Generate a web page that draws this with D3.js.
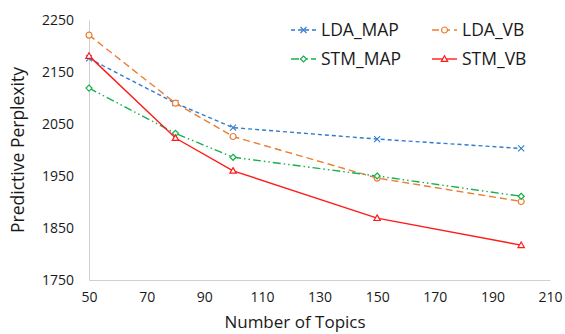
<!DOCTYPE html>
<html>
<head>
<meta charset="utf-8">
<script src="https://cdn.jsdelivr.net/npm/d3@7"></script>
<style>
  body { margin: 0; background: #fff; }
  svg text { font-family: "Open Sans", "Noto Sans", sans-serif; fill: #1a1a1a; }
</style>
</head>
<body>
<div id="chart"></div>
<script>
// values
const topics = [50, 80, 100, 150, 200];
const ldaMap = [2176, 2090, 2043, 2021, 2003];
const ldaVb = [2221, 2090, 2026, 1946, 1901];
const stmMap = [2119, 2032, 1986, 1950, 1911];
const stmVb = [2181, 2023, 1960, 1869, 1817];
const xTicks = [50, 70, 90, 110, 130, 150, 170, 190, 210];
const yTicks = [1750, 1850, 1950, 2050, 2150, 2250];

const width = 565;
const height = 334;
const margin = { top: 20, right: 15, bottom: 54, left: 89 };

const series = [
  { name: 'LDA_MAP', values: ldaMap, color: '#2f7bd0', dash: '4,3', marker: 'x' },
  { name: 'LDA_VB', values: ldaVb, color: '#ed7d31', dash: '7,4', marker: 'circle' },
  { name: 'STM_MAP', values: stmMap, color: '#16b04f', dash: '8,3,1.5,3,1.5,3', marker: 'diamond' },
  { name: 'STM_VB', values: stmVb, color: '#ff1a1a', dash: null, marker: 'triangle' }
];

const svg = d3.select('#chart')
  .append('svg')
  .attr('width', width)
  .attr('height', height);

const xScale = d3.scaleLinear()
  .domain([50, 210])
  .range([margin.left, width - margin.right]);
const yScale = d3.scaleLinear()
  .domain([1750, 2250])
  .range([height - margin.bottom, margin.top]);

// axes
const xAxis = d3.axisBottom(xScale).tickValues(xTicks).tickFormat(d3.format('d')).tickSize(0).tickPadding(12);
const yAxis = d3.axisLeft(yScale).tickValues(yTicks).tickFormat(d3.format('d')).tickSize(0).tickPadding(15);

svg.append('g')
  .attr('class', 'x-axis-container')
  .attr('transform', `translate(0, ${height - margin.bottom})`)
  .call(xAxis);
svg.append('g')
  .attr('class', 'y-axis-container')
  .attr('transform', `translate(${margin.left}, 0)`)
  .call(yAxis);
svg.selectAll('.x-axis-container path, .y-axis-container path')
  .attr('stroke', '#d0d0d0')
  .attr('stroke-width', 1);
svg.selectAll('.x-axis-container text, .y-axis-container text')
  .attr('font-size', 14)
  .attr('fill', '#1a1a1a');

// axis titles
svg.append('text')
  .attr('x', 295)
  .attr('y', 328)
  .attr('text-anchor', 'middle')
  .attr('font-size', 17)
  .text('Number of Topics');
svg.append('text')
  .attr('transform', `translate(24, ${(margin.top + height - margin.bottom) / 2}) rotate(-90)`)
  .attr('text-anchor', 'middle')
  .attr('font-size', 17.5)
  .text('Predictive Perplexity');

const line = d3.line()
  .x((d, i) => xScale(topics[i]))
  .y(d => yScale(d));

function drawMarker(g, type, color) {
  if (type === 'x') {
    g.append('path').attr('d', 'M-3,-3L3,3M-3,3L3,-3')
      .attr('stroke', color).attr('stroke-width', 1.1).attr('fill', 'none');
  } else if (type === 'circle') {
    g.append('circle').attr('r', 3)
      .attr('stroke', color).attr('stroke-width', 1.2).attr('fill', '#fff');
  } else if (type === 'diamond') {
    g.append('path').attr('d', 'M0,-3L3,0L0,3L-3,0Z')
      .attr('stroke', color).attr('stroke-width', 1.2).attr('fill', '#fff');
  } else {
    g.append('path').attr('d', 'M0,-3.2L3.2,2.4L-3.2,2.4Z')
      .attr('stroke', color).attr('stroke-width', 1.2).attr('fill', '#fff');
  }
}

const lines = svg.append('g').attr('class', 'lines-container');
series.forEach(s => {
  lines.append('path')
    .datum(s.values)
    .attr('d', line)
    .attr('fill', 'none')
    .attr('stroke', s.color)
    .attr('stroke-width', 1.4)
    .attr('stroke-dasharray', s.dash);
  s.values.forEach((v, i) => {
    const g = lines.append('g')
      .attr('transform', `translate(${xScale(topics[i])}, ${yScale(v)})`);
    drawMarker(g, s.marker, s.color);
  });
});

// legend
const legend = svg.append('g').attr('class', 'legend-container');
series.forEach((s, i) => {
  const lx = 291 + (i % 2) * 141;
  const ly = 30 + Math.floor(i / 2) * 29;
  const item = legend.append('g').attr('transform', `translate(${lx}, ${ly})`);
  item.append('line')
    .attr('x1', 0).attr('x2', 25)
    .attr('stroke', s.color)
    .attr('stroke-width', 1.4)
    .attr('stroke-dasharray', s.dash);
  drawMarker(item.append('g').attr('transform', 'translate(12.5, 0)'), s.marker, s.color);
  item.append('text')
    .attr('x', 30)
    .attr('y', 0)
    .attr('dy', '0.36em')
    .attr('font-size', 17.5)
    .text(s.name);
});
</script>
</body>
</html>
